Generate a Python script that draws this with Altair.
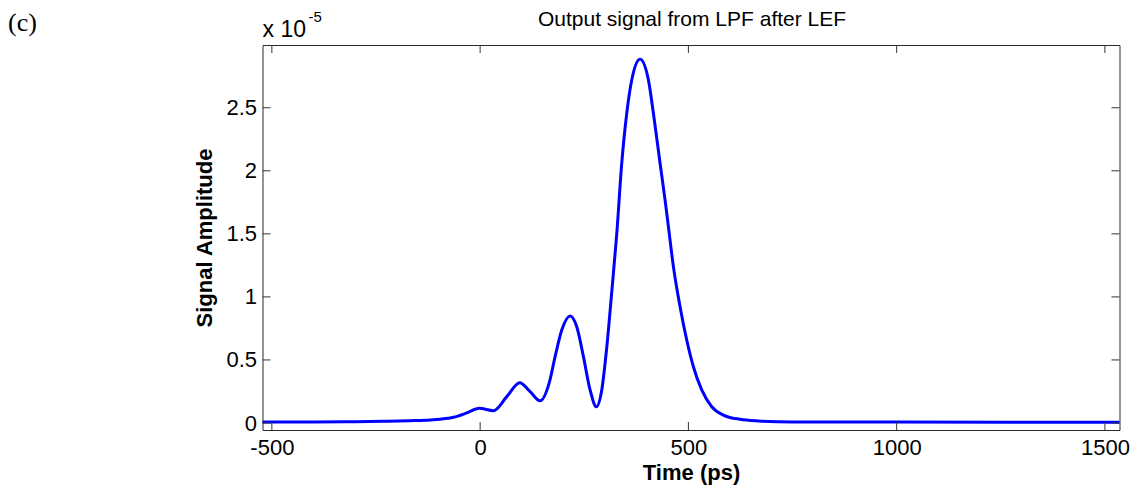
import altair as alt
import pandas as pd

# Time axis (ps) and signal amplitude (in units of 1e-5)
time_ps = [-522.5, -400, -300, -232, -170, -120, -96, -64, -32, -2, 32, 64, 95, 120,
           144, 166, 180, 196, 216, 232, 248, 264, 279, 292, 304, 316, 328, 340,
           352, 364, 384, 404, 416, 432, 444, 452, 464, 480, 496, 512, 532, 556,
           584, 624, 668, 750, 1000, 1535]
amplitude = [0.008, 0.008, 0.010, 0.013, 0.018, 0.024, 0.030, 0.045, 0.080, 0.117,
             0.098, 0.209, 0.320, 0.248, 0.176, 0.320, 0.526, 0.737, 0.849, 0.764,
             0.526, 0.262, 0.129, 0.262, 0.600, 1.040, 1.500, 2.06, 2.456, 2.72,
             2.884, 2.72, 2.456, 2.06, 1.768, 1.557, 1.24, 0.922, 0.658, 0.446,
             0.262, 0.129, 0.063, 0.029, 0.016, 0.008, 0.007, 0.006]

x_ticks = [-500, 0, 500, 1000, 1500]
y_ticks = [0, 0.5, 1, 1.5, 2, 2.5]

title_text = "Output signal from LPF after LEF"
x_title = "Time (ps)"
y_title = "Signal Amplitude"

W, H = 857, 385
FONT = "Liberation Sans"

df = pd.DataFrame({"t": time_ps, "v": amplitude})
xt = pd.DataFrame({"t": x_ticks})
yt = pd.DataFrame({"v": y_ticks})

xscale = alt.Scale(domain=[-522.5, 1535], nice=False, zero=False)
yscale = alt.Scale(domain=[-0.0555, 2.9976], nice=False, zero=False)

x_axis = alt.Axis(values=x_ticks, title=x_title, ticks=False, domain=False, grid=False,
                  labelExpr="'' + datum.value",
                  labelFont=FONT, labelFontSize=22, labelColor="black", labelPadding=7,
                  titleFont=FONT, titleFontSize=22, titleFontWeight="bold",
                  titleColor="black", titlePadding=4, labelFlush=False)
y_axis = alt.Axis(values=y_ticks, title=y_title, ticks=False, domain=False, grid=False,
                  labelExpr="'' + datum.value",
                  labelFont=FONT, labelFontSize=22, labelColor="black", labelPadding=6,
                  titleFont=FONT, titleFontSize=22, titleFontWeight="bold",
                  titleColor="black", titlePadding=9, labelFlush=False)

line = alt.Chart(df).mark_line(color="#0000FF", strokeWidth=3, interpolate="monotone").encode(
    x=alt.X("t:Q", scale=xscale, axis=x_axis),
    y=alt.Y("v:Q", scale=yscale, axis=y_axis),
)

tick_color = "#333333"
xb = alt.Chart(xt).mark_rule(color=tick_color, strokeWidth=1).encode(
    x=alt.X("t:Q", scale=xscale, axis=x_axis), y=alt.value(H), y2=alt.value(H - 8))
xtp = alt.Chart(xt).mark_rule(color=tick_color, strokeWidth=1).encode(
    x=alt.X("t:Q", scale=xscale, axis=x_axis), y=alt.value(0), y2=alt.value(8))
yl = alt.Chart(yt).mark_rule(color=tick_color, strokeWidth=1).encode(
    y=alt.Y("v:Q", scale=yscale, axis=y_axis), x=alt.value(0), x2=alt.value(8))
yr = alt.Chart(yt).mark_rule(color=tick_color, strokeWidth=1).encode(
    y=alt.Y("v:Q", scale=yscale, axis=y_axis), x=alt.value(W), x2=alt.value(W - 8))

def label(text, x, y, size, font=FONT, align="left", weight="normal"):
    return alt.Chart(pd.DataFrame({"s": [text]})).mark_text(
        font=font, fontSize=size, align=align, baseline="alphabetic", fontWeight=weight,
        color="black").encode(text="s:N", x=alt.value(x), y=alt.value(y))

title = label(title_text, 429.5, -19, 21, align="center")
mult = label("x 10", 0, -8, 23)
expo = label("-5", 46, -23, 15)
panel = label("(c)", -254.5, -14, 26, font="Liberation Serif")

chart = alt.layer(line, xb, xtp, yl, yr, title, mult, expo, panel).properties(
    width=W, height=H,
    autosize=alt.AutoSizeParams(type="none"),
    padding={"left": 254.5, "top": 37, "right": 10, "bottom": 55},
).configure(background="white").configure_view(stroke="#2a2a2a", strokeWidth=1)

chart.save("out.html", embed_options={"renderer": "svg", "actions": False})
